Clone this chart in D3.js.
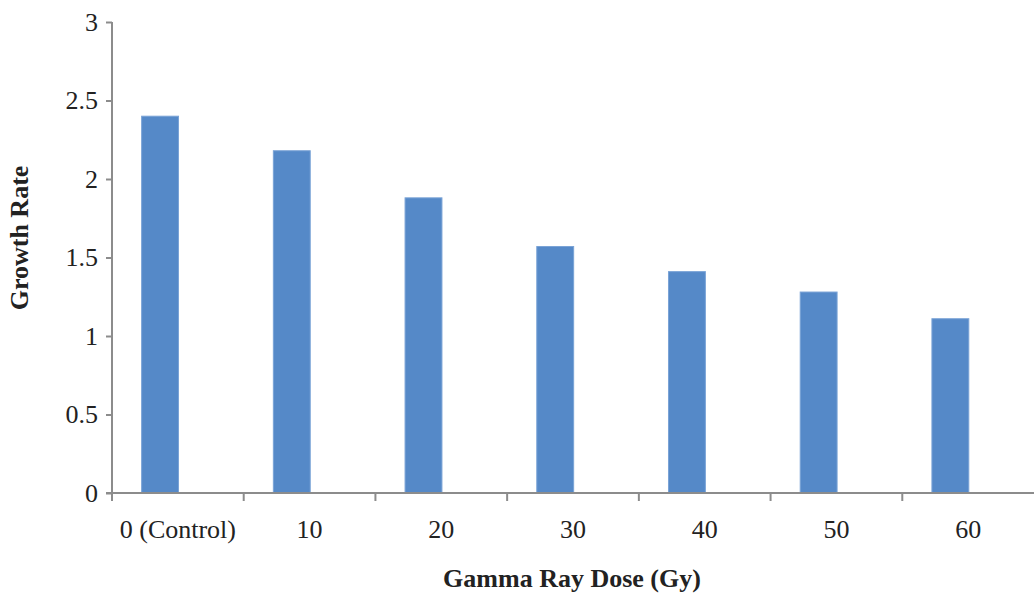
<!DOCTYPE html>
<html>
<head>
<meta charset="utf-8">
<style>
  body { margin: 0; background: #fff; }
  svg text { font-family: "Liberation Serif", "Times New Roman", serif; fill: #222; }
</style>
<script src="https://cdn.jsdelivr.net/npm/d3@7"></script>
</head>
<body>
<div id="chart"></div>
<script>
// data
var doses = ["0 (Control)", "10", "20", "30", "40", "50", "60"];
var growthRate = [2.40, 2.18, 1.88, 1.57, 1.41, 1.28, 1.11];
var yTicks = [0, 0.5, 1, 1.5, 2, 2.5, 3];

var width = 1034, height = 593;
var mLeft = 112, mRight = 1034, mTop = 22, mBottom = 493;

var svg = d3.select("#chart").append("svg")
  .attr("width", width)
  .attr("height", height);

var x = d3.scaleBand()
  .domain(doses)
  .range([mLeft, mRight])
  .padding(0);

// two slots per category, only the first one carries a bar
var slot = d3.scaleBand()
  .domain(["a", "b"])
  .range([x.bandwidth() * 0.225, x.bandwidth() * 0.785])
  .padding(0);

var y = d3.scaleLinear()
  .domain([0, 3])
  .range([mBottom, mTop]);

var axisColor = "#8c8c8c";

// bars
svg.append("g")
  .selectAll("rect")
  .data(growthRate)
  .enter()
  .append("rect")
    .attr("x", function(d, i) { return x(doses[i]) + slot("a"); })
    .attr("y", function(d) { return y(d); })
    .attr("width", slot.bandwidth())
    .attr("height", function(d) { return y(0) - y(d); })
    .attr("fill", "#5589c8")
    .attr("stroke", "#7aa3d6")
    .attr("stroke-width", 1);

// y axis
var yAxis = svg.append("g")
  .attr("transform", "translate(" + mLeft + ",0)")
  .call(d3.axisLeft(y).tickValues(yTicks).tickSize(6).tickPadding(8)
    .tickFormat(function(d) { return String(d); }));
yAxis.select(".domain").attr("stroke", axisColor).attr("stroke-width", 2)
  .attr("d", "M0," + mTop + "V" + mBottom);
yAxis.selectAll(".tick line").attr("stroke", axisColor).attr("stroke-width", 2);
yAxis.selectAll(".tick text")
  .style("font-size", "26px")
  .attr("fill", "#222");

// x axis: line along zero, ticks at category boundaries
var xAxis = svg.append("g")
  .attr("transform", "translate(0," + mBottom + ")");
xAxis.append("line")
  .attr("x1", mLeft - 6).attr("x2", mRight)
  .attr("stroke", axisColor).attr("stroke-width", 2);
xAxis.selectAll("line.tk")
  .data(doses)
  .enter()
  .append("line")
    .attr("class", "tk")
    .attr("x1", function(d) { return x(d); })
    .attr("x2", function(d) { return x(d); })
    .attr("y1", 0).attr("y2", 8)
    .attr("stroke", axisColor).attr("stroke-width", 2);
xAxis.selectAll("text")
  .data(doses)
  .enter()
  .append("text")
    .attr("x", function(d) { return x(d) + x.bandwidth() / 2; })
    .attr("y", 45)
    .attr("text-anchor", "middle")
    .style("font-size", "26px")
    .text(function(d) { return d; });

// axis titles
svg.append("text")
  .attr("x", 572).attr("y", 587)
  .attr("text-anchor", "middle")
  .style("font-size", "26px")
  .style("font-weight", "bold")
  .text("Gamma Ray Dose (Gy)");

svg.append("text")
  .attr("transform", "translate(28,238) rotate(-90)")
  .attr("text-anchor", "middle")
  .style("font-size", "26px")
  .style("font-weight", "bold")
  .text("Growth Rate");
</script>
</body>
</html>
